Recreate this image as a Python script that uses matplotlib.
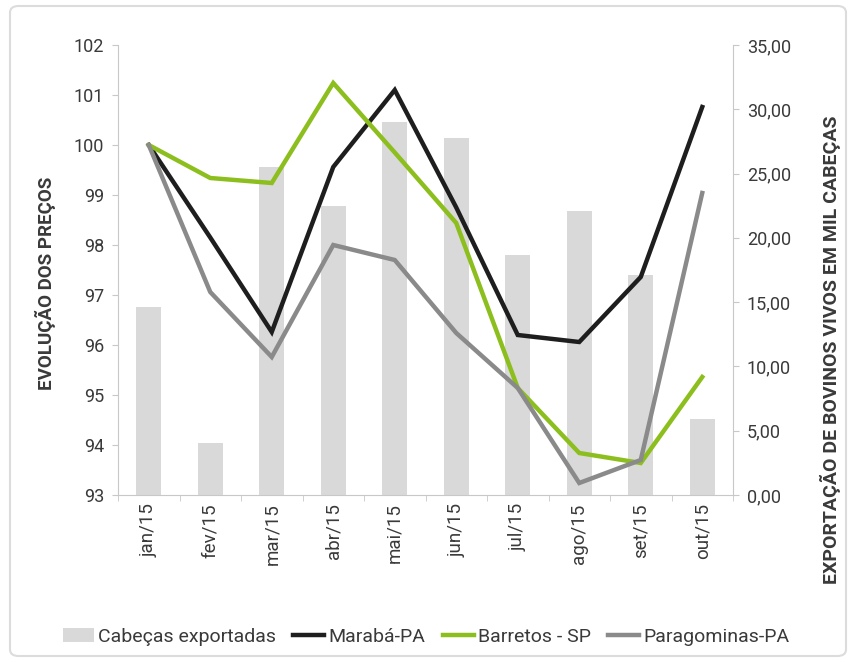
import matplotlib
matplotlib.use("Agg")
import matplotlib.pyplot as plt
from matplotlib.patches import FancyBboxPatch
from matplotlib.ticker import FuncFormatter, MultipleLocator, FixedLocator
import numpy as np

plt.rcParams['font.family'] = ['Roboto', 'DejaVu Sans']

months = ["jan/15", "fev/15", "mar/15", "abr/15", "mai/15", "jun/15",
          "jul/15", "ago/15", "set/15", "out/15"]
cabecas = [14.6, 4.05, 25.5, 22.5, 29.0, 27.8, 18.7, 22.1, 17.1, 5.9]
maraba = [100.0, 98.15, 96.26, 99.56, 101.1, 98.75, 96.2, 96.06, 97.36, 100.76]
barretos = [100.0, 99.34, 99.24, 101.24, 99.85, 98.44, 95.14, 93.84, 93.64, 95.36]
paragominas = [100.0, 97.06, 95.76, 98.0, 97.7, 96.24, 95.14, 93.24, 93.7, 99.04]

txt = "#3a3a3a"
spine = "#c8c8c8"

fig = plt.figure(figsize=(8.52, 6.64), dpi=100)
border = FancyBboxPatch((10/852, 8/664), 836/852, 650/664,
                        boxstyle="round,pad=0,rounding_size=0.01",
                        transform=fig.transFigure, facecolor="none",
                        edgecolor="#dcdcdc", linewidth=1.5, zorder=-5)
fig.patches.append(border)

ax = fig.add_axes([118/852, 1-495/664, 615/852, 450/664])
ax2 = ax.twinx()
ax.set_zorder(1)
ax.patch.set_visible(False)
ax2.set_zorder(0)

x = np.arange(len(months))
b = ax2.bar(x, cabecas, width=0.4, color="#d9d9d9", label="Cabeças exportadas")
l1, = ax.plot(x, maraba, color="#1e1e1e", lw=3.2, label="Marabá-PA", solid_joinstyle="miter")
l2, = ax.plot(x, barretos, color="#8cbf1e", lw=3.2, label="Barretos - SP", solid_joinstyle="miter")
l3, = ax.plot(x, paragominas, color="#8a8a8a", lw=3.2, label="Paragominas-PA", solid_joinstyle="miter")

ax.set_xlim(-0.5, 9.5)
ax.set_ylim(93, 102)
ax2.set_ylim(0, 35)
ax.yaxis.set_major_locator(MultipleLocator(1))
ax2.yaxis.set_major_locator(MultipleLocator(5))
ax2.yaxis.set_major_formatter(FuncFormatter(lambda v, p: f"{v:.2f}".replace(".", ",")))

ax.set_xticks(x)
ax.set_xticklabels(months, rotation=90, fontsize=13.5, color=txt)
ax.xaxis.set_minor_locator(FixedLocator(np.arange(-0.5, 10, 1)))
ax.tick_params(axis="x", which="major", length=0, pad=6)
ax.tick_params(axis="x", which="minor", length=4, color=spine)
ax.tick_params(axis="y", length=4, color=spine, labelsize=13, labelcolor=txt, pad=6)
ax2.tick_params(axis="y", length=4, color=spine, labelsize=13, labelcolor=txt, pad=6)

for a in (ax, ax2):
    for s in a.spines.values():
        s.set_visible(False)
ax.spines["left"].set_visible(True)
ax.spines["left"].set_color(spine)
ax.spines["bottom"].set_visible(True)
ax.spines["bottom"].set_color(spine)
ax2.spines["right"].set_visible(True)
ax2.spines["right"].set_color(spine)

fig.text(45/852, 1-283/664, "EVOLUÇÃO DOS PREÇOS", rotation=90, ha="center", va="center",
         fontsize=13.5, fontweight="bold", color=txt)
fig.text(830/852, 1-350/664, "EXPORTAÇÃO DE BOVINOS VIVOS EM MIL CABEÇAS", rotation=90,
         ha="center", va="center", fontsize=14, fontweight="bold", color=txt)

fig.legend(handles=[b, l1, l2, l3], loc="center", bbox_to_anchor=(0.5, 1-637/664),
           ncol=4, frameon=False, fontsize=14, handlelength=1.6, handletextpad=0.2,
           columnspacing=0.9, labelcolor=txt)

fig.savefig("out.png", dpi=100)
